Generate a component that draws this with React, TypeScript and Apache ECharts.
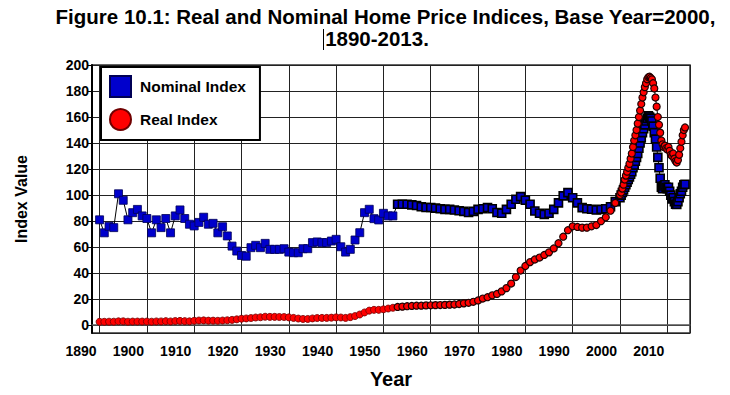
import React, { useEffect, useRef } from "react";
import * as echarts from "echarts";

const titleLine1 = "Figure 10.1: Real and Nominal Home Price Indices, Base Year=2000,";
const titleLine2 = "1890-2013.";
const xAxisTitle = "Year";
const yAxisTitle = "Index Value";
const nominalName = "Nominal Index";
const realName = "Real Index";

// [year, value]
const nominalPoints: [number, number][] = [
  [1890, 81], [1891, 71], [1892, 76], [1893, 75], [1894, 101], [1895, 96], [1896, 81], [1897, 86.5], [1898, 89], [1899, 84],
  [1900, 82], [1901, 71], [1902, 81], [1903, 75], [1904, 82], [1905, 71], [1906, 84], [1907, 88.6], [1908, 82], [1909, 77.6],
  [1910, 76.3], [1911, 79], [1912, 83], [1913, 77.6], [1914, 78.3], [1915, 71], [1916, 75.7], [1917, 68.6], [1918, 60.8], [1919, 57],
  [1920, 53.6], [1921, 53], [1922, 59.6], [1923, 61.4], [1924, 59.6], [1925, 62.9], [1926, 58.3], [1927, 58.3], [1928, 58.3], [1929, 58.8],
  [1930, 56.2], [1931, 55.7], [1932, 55.7], [1933, 58.8], [1934, 58.8], [1935, 63.5], [1936, 64], [1937, 63.5], [1938, 63.5], [1939, 64.7],
  [1940, 66], [1941, 60.3], [1942, 56.2], [1943, 58.3], [1944, 65.5], [1945, 71.1], [1946, 86.5], [1947, 89.1], [1948, 81.9], [1949, 80.9],
  [1950, 86], [1951, 84], [1952, 84],
  [1953, 93], [1954, 93], [1955, 93], [1956, 92.5], [1957, 92], [1958, 91], [1959, 90.5],
  [1960, 90.5], [1961, 90], [1962, 89.5], [1963, 89], [1964, 89], [1965, 88.5], [1966, 88], [1967, 87.5], [1968, 86.6], [1969, 87.5],
  [1970, 89], [1971, 89.5], [1972, 90.4], [1973, 89.5], [1974, 86.6], [1975, 86], [1976, 89], [1977, 93], [1978, 96.8], [1979, 98.8],
  [1980, 96], [1981, 93], [1982, 87.8], [1983, 86], [1984, 85.2], [1985, 86], [1986, 89], [1987, 94], [1988, 99.4], [1989, 101.9],
  [1990, 98], [1991, 94], [1992, 90.4], [1993, 89.5], [1994, 89.1], [1995, 88.5], [1996, 89], [1997, 89.5], [1998, 91], [1999, 95],
  [2000, 98], [2000.25, 100], [2000.5, 102], [2000.75, 104], [2001, 106], [2001.25, 108], [2001.5, 110], [2001.75, 112],
  [2002, 114], [2002.25, 116], [2002.5, 118], [2002.75, 121], [2003, 123], [2003.25, 126], [2003.5, 129], [2003.75, 132],
  [2004, 136], [2004.25, 140], [2004.5, 144], [2004.75, 148], [2005, 151], [2005.25, 154], [2005.5, 157], [2005.75, 159],
  [2006, 161], [2006.25, 160], [2006.5, 159], [2006.75, 157], [2007, 153], [2007.25, 148], [2007.5, 143], [2007.75, 137],
  [2008, 129], [2008.25, 121], [2008.5, 113], [2008.75, 106], [2009, 105], [2009.25, 107], [2009.5, 108], [2009.75, 106],
  [2010, 105], [2010.25, 106], [2010.5, 103], [2010.75, 100], [2011, 97], [2011.25, 98], [2011.5, 95], [2011.75, 93],
  [2012, 92.9], [2012.25, 95], [2012.5, 98], [2012.75, 101], [2013, 103], [2013.25, 106], [2013.5, 108], [2013.75, 108.3],
];

const realPoints: [number, number][] = [
  [1890, 2.6], [1891, 2.6], [1892, 2.7], [1893, 2.7], [1894, 3.0], [1895, 3.0], [1896, 2.7], [1897, 2.8], [1898, 2.8], [1899, 2.8],
  [1900, 2.8], [1901, 2.7], [1902, 2.9], [1903, 2.9], [1904, 3.1], [1905, 2.9], [1906, 3.2], [1907, 3.3], [1908, 3.1], [1909, 3.0],
  [1910, 3.4], [1911, 3.6], [1912, 3.7], [1913, 3.5], [1914, 3.5], [1915, 3.4], [1916, 3.6], [1917, 3.8], [1918, 4.1], [1919, 4.5],
  [1920, 5.0], [1921, 5.2], [1922, 5.5], [1923, 5.9], [1924, 6.1], [1925, 6.5], [1926, 6.4], [1927, 6.4], [1928, 6.3], [1929, 6.3],
  [1930, 6.0], [1931, 5.6], [1932, 5.1], [1933, 4.8], [1934, 4.8], [1935, 5.2], [1936, 5.5], [1937, 5.6], [1938, 5.6], [1939, 5.8],
  [1940, 6.0], [1941, 5.9], [1942, 5.6], [1943, 6.2], [1944, 7.0], [1945, 8.2], [1946, 9.8], [1947, 11.2], [1948, 11.8], [1949, 11.8],
  [1950, 12.2], [1951, 12.8], [1952, 13.4],
  [1953, 14], [1954, 14.3], [1955, 14.6], [1956, 14.8], [1957, 15], [1958, 15], [1959, 15.2],
  [1960, 15.3], [1961, 15.4], [1962, 15.5], [1963, 15.6], [1964, 15.8], [1965, 15.9], [1966, 16.3], [1967, 16.8], [1968, 17.2], [1969, 18],
  [1970, 19], [1971, 20.5], [1972, 21.5], [1973, 23], [1974, 24], [1975, 26], [1976, 28.5], [1977, 32], [1978, 37], [1979, 42],
  [1980, 45.5], [1981, 48.5], [1982, 50.5], [1983, 52], [1984, 54], [1985, 56], [1986, 59], [1987, 63], [1988, 68], [1989, 73],
  [1990, 76], [1991, 75.5], [1992, 75], [1993, 75], [1994, 76], [1995, 77], [1996, 80], [1997, 83], [1998, 88], [1999, 94],
  [2000, 100], [2000.25, 102], [2000.5, 105], [2000.75, 108], [2001, 112], [2001.25, 115], [2001.5, 118], [2001.75, 121],
  [2002, 124], [2002.25, 128], [2002.5, 132], [2002.75, 137], [2003, 142], [2003.25, 146], [2003.5, 150], [2003.75, 155],
  [2004, 160], [2004.25, 165], [2004.5, 170], [2004.75, 175], [2005, 179], [2005.25, 183], [2005.5, 186], [2005.75, 189],
  [2006, 190.6], [2006.25, 191], [2006.5, 190], [2006.75, 189], [2007, 186], [2007.25, 182], [2007.5, 175], [2007.75, 168],
  [2008, 160], [2008.25, 154], [2008.5, 148], [2008.75, 142], [2009, 139], [2009.25, 137], [2009.5, 138], [2009.75, 136],
  [2010, 135], [2010.25, 137], [2010.5, 134], [2010.75, 131], [2011, 130], [2011.25, 132], [2011.5, 128], [2011.75, 126],
  [2012, 125], [2012.25, 127], [2012.5, 131], [2012.75, 136], [2013, 141], [2013.25, 146], [2013.5, 150], [2013.75, 152],
];

const DENSE_FROM = 1953;
const FONT = "'Liberation Sans', Arial, sans-serif";

export default function App() {
  const ref = useRef<HTMLDivElement>(null);
  useEffect(() => {
    const chart = echarts.init(ref.current!, null, { renderer: "svg" });
    const toData = (pts: [number, number][], denseBorder: string, denseWidth: number) =>
      pts.map(([x, y]) =>
        x >= DENSE_FROM
          ? { value: [x, y], itemStyle: { borderColor: denseBorder, borderWidth: denseWidth } }
          : { value: [x, y] }
      );
    chart.setOption({
      animation: false,
      backgroundColor: "#fff",
      textStyle: { fontFamily: FONT },
      grid: {
        left: 92, right: 40, top: 65, bottom: 62,
        show: true, borderColor: "#333", borderWidth: 1.5, backgroundColor: "transparent",
      },
      legend: {
        orient: "vertical",
        left: 101,
        top: 67,
        backgroundColor: "#fff",
        borderColor: "#000",
        borderWidth: 2,
        padding: [8, 14, 9, 8],
        itemGap: 10,
        itemWidth: 21,
        itemHeight: 21,
        textStyle: { fontFamily: FONT, fontSize: 15.5, fontWeight: "bold", color: "#000", padding: [0, 0, 0, 4] },
        data: [
          { name: nominalName, icon: "rect" },
          { name: realName, icon: "circle" },
        ],
      },
      xAxis: {
        type: "value",
        min: 1888.4,
        max: 2014.8,
        splitNumber: 12,
        name: xAxisTitle,
        nameLocation: "middle",
        nameGap: 36,
        nameTextStyle: { fontFamily: FONT, fontSize: 20, fontWeight: "bold", color: "#000" },
        axisLine: { show: true, lineStyle: { color: "#555", width: 1.5 } },
        axisTick: { show: false },
        splitLine: { show: true, lineStyle: { color: "#222", width: 1 } },
        axisLabel: {
          showMinLabel: false,
          showMaxLabel: false,
          margin: 11,
          padding: [0, 37, 0, 0],
          fontFamily: FONT,
          fontSize: 14,
          fontWeight: "bold",
          color: "#000",
          formatter: (v: number) => String(Math.round(v)),
        },
      },
      yAxis: {
        type: "value",
        min: -6,
        max: 200,
        splitNumber: 10,
        name: yAxisTitle,
        nameLocation: "middle",
        nameGap: 63,
        nameTextStyle: { fontFamily: FONT, fontSize: 16, fontWeight: "bold", color: "#000" },
        axisLine: { show: true, lineStyle: { color: "#000", width: 2 } },
        axisTick: { show: true, length: 5, lineStyle: { color: "#000", width: 1 } },
        splitLine: { show: true, lineStyle: { color: "#222", width: 1 } },
        axisLabel: {
          showMinLabel: false,
          margin: 3,
          fontFamily: FONT,
          fontSize: 14,
          fontWeight: "bold",
          color: "#000",
        },
      },
      series: [
        {
          name: nominalName,
          type: "line",
          data: toData(nominalPoints, "#000", 1.6),
          symbol: "rect",
          symbolSize: 8,
          showAllSymbol: true,
          itemStyle: { color: "#0000CC", borderColor: "#000055", borderWidth: 0.8 },
          lineStyle: { color: "#000", width: 1 },
          emphasis: { disabled: true },
        },
        {
          name: realName,
          type: "line",
          data: toData(realPoints, "#200000", 1.2),
          symbol: "circle",
          symbolSize: 7,
          showAllSymbol: true,
          itemStyle: { color: "#FF0000", borderColor: "#700000", borderWidth: 0.8 },
          lineStyle: { color: "#000", width: 1 },
          emphasis: { disabled: true },
        },
      ],
      graphic: [
        {
          type: "text",
          x: 385.5,
          y: 16.5,
          style: {
            text: titleLine1,
            fontFamily: FONT,
            fontSize: 20.5,
            fontWeight: "bold",
            fill: "#000",
            textAlign: "center",
            textVerticalAlign: "middle",
          },
        },
        {
          type: "text",
          x: 377,
          y: 38.5,
          style: {
            text: titleLine2,
            fontFamily: FONT,
            fontSize: 20.5,
            fontWeight: "bold",
            fill: "#000",
            textAlign: "center",
            textVerticalAlign: "middle",
          },
        },
        {
          type: "line",
          shape: { x1: 323.5, y1: 29, x2: 323.5, y2: 50 },
          style: { stroke: "#000", lineWidth: 1 },
        },
      ],
    });
    return () => chart.dispose();
  }, []);
  return <div ref={ref} style={{ position: "fixed", left: 0, top: 0, width: 730, height: 395 }} />;
}
